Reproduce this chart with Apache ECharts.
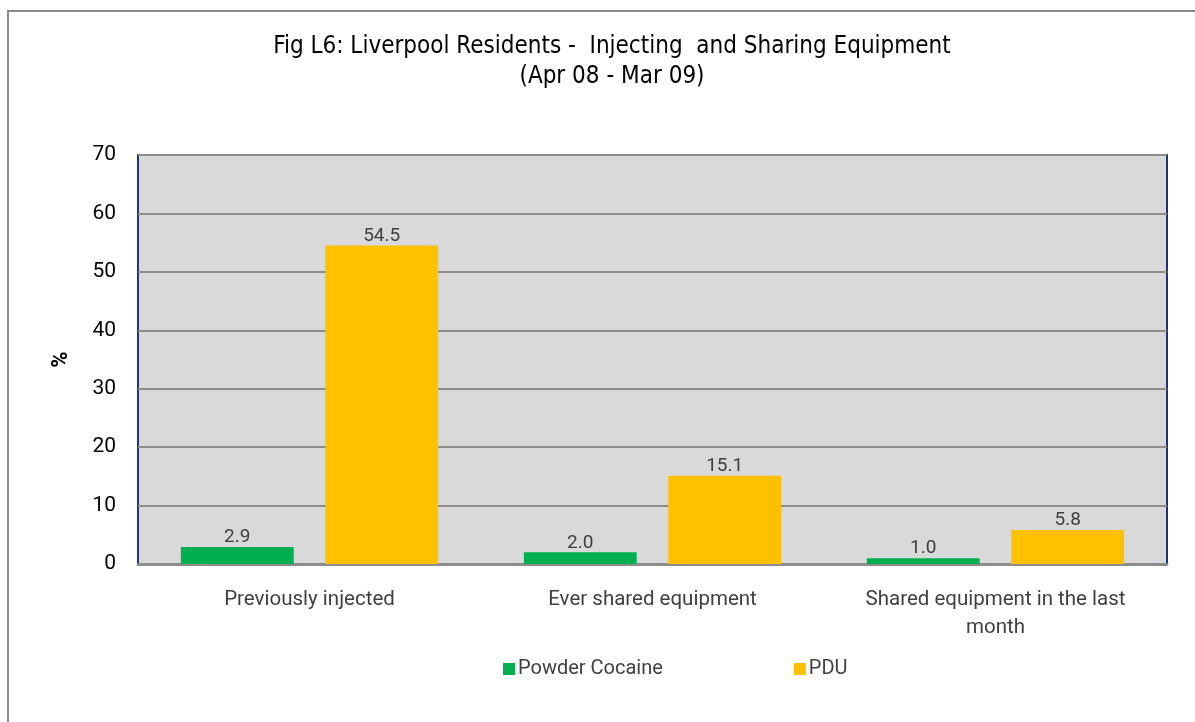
<!DOCTYPE html>
<html>
<head>
<meta charset="utf-8">
<title>Fig L6</title>
<script src="https://cdn.jsdelivr.net/npm/echarts@6/dist/echarts.min.js"></script>
<style>
  html, body { margin: 0; padding: 0; background: #fff; }
  #chart { width: 1195px; height: 722px; }
</style>
</head>
<body>
<div id="chart"></div>
<script>
// 数据
const categories = ['Previously injected', 'Ever shared equipment', 'Shared equipment in the last\nmonth'];
const powderCocaine = [2.9, 2.0, 1.0];
const pdu = [54.5, 15.1, 5.8];
const yTicks = { min: 0, max: 70, interval: 10 };

const labelFont = 'Roboto, "Liberation Sans", sans-serif';
const titleFont = '"DejaVu Sans Condensed", "Liberation Sans Narrow", "Liberation Sans", sans-serif';

const chart = echarts.init(document.getElementById('chart'));

const barLabel = {
  show: true,
  position: 'top',
  distance: 0,
  color: '#404040',
  fontSize: 19,
  fontFamily: labelFont,
  formatter: p => p.value.toFixed(1)
};

chart.setOption({
  animation: false,
  backgroundColor: '#fff',
  graphic: [
    // 外框
    { type: 'rect', shape: { x: 8, y: 11, width: 1200, height: 720 },
      style: { fill: 'none', stroke: '#8C8C8C', lineWidth: 2 }, silent: true }
  ],
  title: {
    text: 'Fig L6: Liverpool Residents -  Injecting  and Sharing Equipment\n(Apr 08 - Mar 09)',
    left: 607,
    top: 27,
    textAlign: 'center',
    textStyle: { fontFamily: titleFont, fontSize: 24, fontWeight: 'normal', color: '#000', lineHeight: 30 }
  },
  legend: {
    left: 498,
    top: 654,
    itemWidth: 12,
    itemHeight: 12,
    itemGap: 131,
    icon: 'rect',
    textStyle: { color: '#404040', fontSize: 20, fontFamily: labelFont, padding: [0, 0, 0, -2] },
    data: ['Powder Cocaine', 'PDU']
  },
  grid: {
    left: 138, top: 155, right: 28, bottom: 158,
    show: true,
    backgroundColor: '#D9D9D9',
    borderColor: '#1F3470',
    borderWidth: 2
  },
  xAxis: {
    type: 'category',
    data: categories,
    axisLine: { show: true, lineStyle: { color: '#8C8C8C', width: 3 } },
    axisTick: { show: false },
    axisLabel: {
      interval: 0, hideOverlap: false,
      color: '#404040', fontSize: 20.5, fontFamily: labelFont, margin: 22, lineHeight: 28
    }
  },
  yAxis: {
    type: 'value',
    min: yTicks.min,
    max: yTicks.max,
    interval: yTicks.interval,
    name: '%',
    nameLocation: 'middle',
    nameGap: 66,
    nameRotate: 90,
    nameTextStyle: { color: '#000', fontSize: 22, fontWeight: 'bold', fontFamily: labelFont },
    axisLine: { show: false },
    axisTick: { show: false },
    axisLabel: { color: '#000', fontSize: 21, fontFamily: labelFont, margin: 22 },
    splitLine: { lineStyle: { color: '#8C8C8C', width: 2 } }
  },
  series: [
    {
      name: 'Powder Cocaine', type: 'bar', data: powderCocaine,
      itemStyle: { color: '#00B050' },
      barGap: '28%', barCategoryGap: '25%',
      label: barLabel
    },
    {
      name: 'PDU', type: 'bar', data: pdu,
      itemStyle: { color: '#FFC000' },
      barGap: '28%', barCategoryGap: '25%',
      label: barLabel
    }
  ]
});
</script>
</body>
</html>
